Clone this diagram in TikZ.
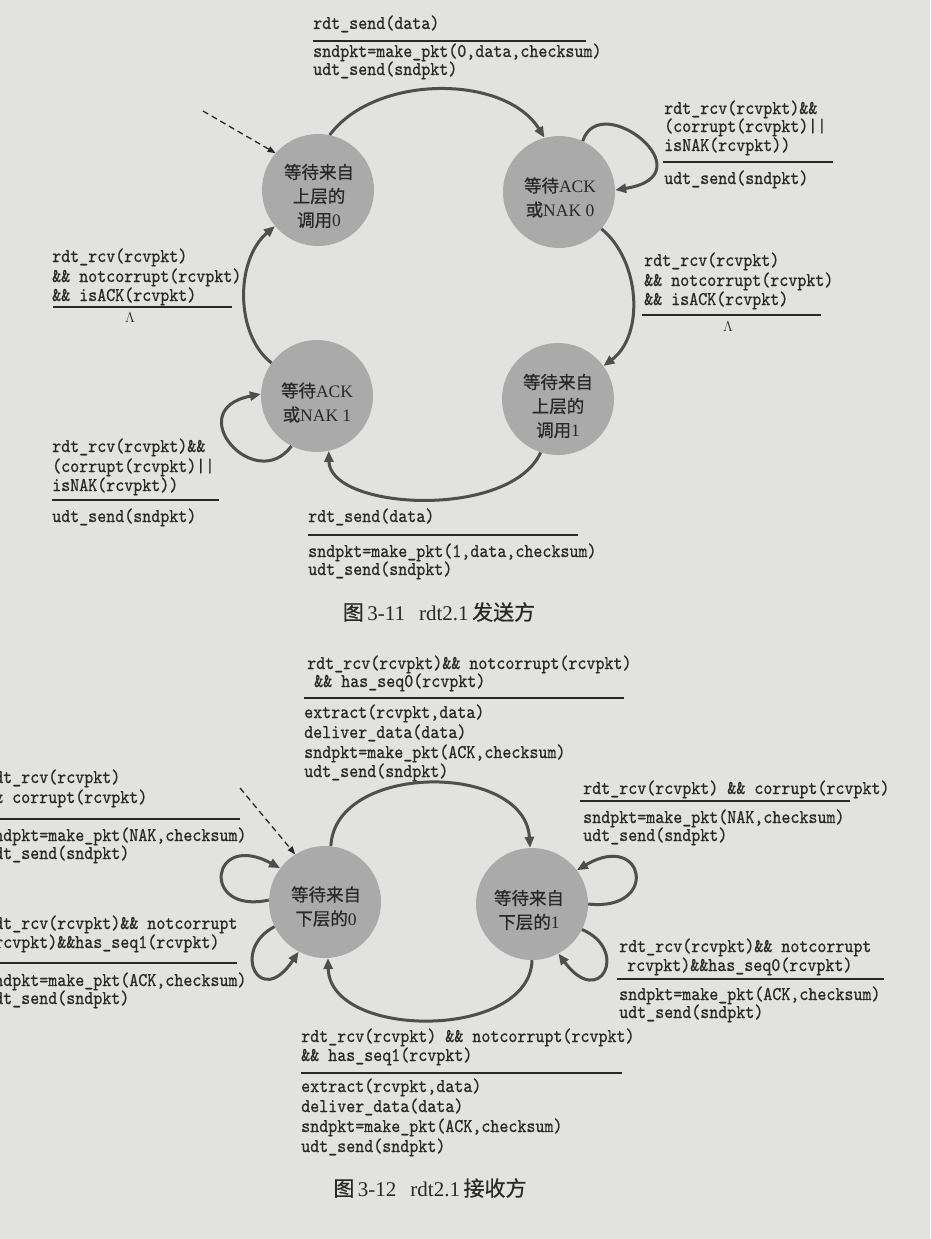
\documentclass[tikz,border=0pt]{standalone}
\usepackage{fontspec}
\usetikzlibrary{arrows.meta}
\newfontfamily\zhfont{Noto Sans CJK SC}[FakeBold=0.6]
\newfontfamily\lsfont{Liberation Serif}
\newfontfamily\codefont{lmmono10-regular}[Extension=.otf, FakeBold=0.7, FakeStretch=0.88]

\definecolor{paper}{RGB}{226,226,224}
\definecolor{statefill}{RGB}{170,170,170}
\definecolor{wire}{RGB}{78,78,78}
\definecolor{ink}{RGB}{40,40,40}

\tikzset{
  state/.style={circle, fill=statefill, minimum size=112pt, inner sep=0pt},
  statetext/.style={align=center, text=ink, inner sep=0pt,
    font=\fontsize{17.5}{24}\selectfont},
  code/.style={anchor=base west, inner sep=0pt, text=ink,
    font=\codefont\fontsize{19.5}{21}\selectfont},
  rule/.style={draw=ink, line width=1.6pt},
  trans/.style={draw=wire, line width=3pt, -{Triangle[length=11pt,width=9pt]}},
  init/.style={draw=ink, line width=1.3pt, dash pattern=on 6pt off 4pt,
    -{Triangle[length=8pt,width=6pt]}},
  lambda/.style={text=ink, inner sep=0pt, font=\fontsize{15}{15}\selectfont},
  caption/.style={text=ink, inner sep=0pt, font=\fontsize{21}{24}\selectfont},
}

\begin{document}
\begin{tikzpicture}[x=1pt, y=-1pt]
\path[use as bounding box, fill=paper] (0,0) rectangle (930,1239);
\clip (0,0) rectangle (930,1239);

% ---------------- rdt2.1 sender ----------------
\node[state] (w0) at (318,190) {};
\node[statetext] (w0t) at (319,196) {{\zhfont 等待来自}\\{\zhfont 上层的}\\{\zhfont 调用}{\lsfont 0}};
\node[state] (a0) at (559,192) {};
\node[statetext] (a0t) at (560,197.5) {{\zhfont 等待}{\lsfont ACK}\\{\zhfont 或}{\lsfont NAK 0}};
\node[state] (a1) at (317,396) {};
\node[statetext] (a1t) at (317,402.5) {{\zhfont 等待}{\lsfont ACK}\\{\zhfont 或}{\lsfont NAK 1}};
\node[state] (w1) at (558,399) {};
\node[statetext] (w1t) at (558,406) {{\zhfont 等待来自}\\{\zhfont 上层的}\\{\zhfont 调用}{\lsfont 1}};

\coordinate (s0) at (203,111);
\draw[init] (s0) -- (w0.139);
\draw[trans] (w0.78) .. controls (375,74) and (505,74) .. (a0.105);
\draw[trans] (a0.65) .. controls (600,88) and (710,175) .. (a0.2);
\draw[trans] (a0.-41) .. controls (640,260) and (645,335) .. (w1.36);
\draw[trans] (w1.252) .. controls (510,520) and (330,510) .. (a1.282);
\draw[trans] (a1.243) .. controls (255,495) and (180,410) .. (a1.178);
\draw[trans] (a1.144) .. controls (235,335) and (235,260) .. (w0.220);

% w0 -> a0
\node[code] (l1a) at (313,29) {rdt\_send(data)};
\draw[rule] (313,41) -- (586,41);
\node[code] (l1b) at (313,57) {sndpkt=make\_pkt(0,data,checksum)};
\node[code] (l1c) at (313,75) {udt\_send(sndpkt)};

% a0 self loop
\node[code] (l2a) at (664,114) {rdt\_rcv(rcvpkt)\&\&};
\node[code] (l2b) at (664,132) {(corrupt(rcvpkt)||};
\node[code] (l2c) at (664,151) {isNAK(rcvpkt))};
\draw[rule] (663,162) -- (833,162);
\node[code] (l2d) at (664,184) {udt\_send(sndpkt)};

% a1 -> w0
\node[code] (l3a) at (52,262) {rdt\_rcv(rcvpkt)};
\node[code] (l3b) at (52,282) {\&\& notcorrupt(rcvpkt)};
\node[code] (l3c) at (52,301) {\&\& isACK(rcvpkt)};
\draw[rule] (53,307) -- (232,307);
\node[lambda] (l3d) at (130,318) {$\Lambda$};

% a0 -> w1
\node[code] (l4a) at (644,266) {rdt\_rcv(rcvpkt)};
\node[code] (l4b) at (644,286) {\&\& notcorrupt(rcvpkt)};
\node[code] (l4c) at (644,305) {\&\& isACK(rcvpkt)};
\draw[rule] (642,315) -- (821,315);
\node[lambda] (l4d) at (728,327) {$\Lambda$};

% a1 self loop
\node[code] (l5a) at (52,452) {rdt\_rcv(rcvpkt)\&\&};
\node[code] (l5b) at (52,472) {(corrupt(rcvpkt)||};
\node[code] (l5c) at (52,491) {isNAK(rcvpkt))};
\draw[rule] (52,500) -- (219,500);
\node[code] (l5d) at (52,522) {udt\_send(sndpkt)};

% w1 -> a1
\node[code] (l6a) at (308,522) {rdt\_send(data)};
\draw[rule] (308,535) -- (578,535);
\node[code] (l6b) at (308,557) {sndpkt=make\_pkt(1,data,checksum)};
\node[code] (l6c) at (308,575) {udt\_send(sndpkt)};

\node[caption] (cap1) at (439,612) {{\zhfont 图}\,{\lsfont 3-11}\hspace{14pt}{\lsfont rdt2.1}\,{\zhfont 发送方}};

% ---------------- rdt2.1 receiver ----------------
\node[state] (r0) at (325,902) {};
\node[statetext] (r0t) at (326,906.5) {{\zhfont 等待来自}\\{\zhfont 下层的}{\lsfont 0}};
\node[state] (r1) at (532,904) {};
\node[statetext] (r1t) at (529,910) {{\zhfont 等待来自}\\{\zhfont 下层的}{\lsfont 1}};

\coordinate (s1) at (240,788);
\draw[init] (s1) -- (r0.122);
\draw[trans] (r0.84) .. controls (335,762) and (525,762) .. (r1.92);
\draw[trans] (r1.-90) .. controls (530,1040) and (330,1040) .. (r0.-87);
\draw[trans] (r0.178) .. controls (200,915) and (210,830) .. (r0.143);
\draw[trans] (r0.206) .. controls (230,950) and (260,1010) .. (r0.242);
\draw[trans] (r1.0) .. controls (660,912) and (645,830) .. (r1.37);
\draw[trans] (r1.-27) .. controls (630,950) and (600,1010) .. (r1.-62);

% r0 -> r1
\node[code] (m1a) at (307,669) {rdt\_rcv(rcvpkt)\&\& notcorrupt(rcvpkt)};
\node[code] (m1b) at (314,687) {\&\& has\_seq0(rcvpkt)};
\draw[rule] (304,698) -- (624,698);
\node[code] (m1c) at (304,718) {extract(rcvpkt,data)};
\node[code] (m1d) at (304,738) {deliver\_data(data)};
\node[code] (m1e) at (304,758) {sndpkt=make\_pkt(ACK,checksum)};
\node[code] (m1f) at (304,777) {udt\_send(sndpkt)};

% r0 loop, corrupt
\node[code] (m2a) at (-15,783) {rdt\_rcv(rcvpkt)};
\node[code] (m2b) at (-15,803) {\&\& corrupt(rcvpkt)};
\draw[rule] (0,819) -- (240,819);
\node[code] (m2c) at (-15,841) {sndpkt=make\_pkt(NAK,checksum)};
\node[code] (m2d) at (-15,859) {udt\_send(sndpkt)};

% r1 loop, corrupt
\node[code] (m3a) at (583,794) {rdt\_rcv(rcvpkt) \&\& corrupt(rcvpkt)};
\draw[rule] (580,801) -- (850,801);
\node[code] (m3b) at (583,823) {sndpkt=make\_pkt(NAK,checksum)};
\node[code] (m3c) at (583,841) {udt\_send(sndpkt)};

% r0 loop, duplicate seq1
\node[code] (m4a) at (-15,929) {rdt\_rcv(rcvpkt)\&\& notcorrupt};
\node[code] (m4b) at (-15,948) {(rcvpkt)\&\&has\_seq1(rcvpkt)};
\draw[rule] (0,963) -- (237,963);
\node[code] (m4c) at (-15,986) {sndpkt=make\_pkt(ACK,checksum)};
\node[code] (m4d) at (-15,1004) {udt\_send(sndpkt)};

% r1 loop, duplicate seq0
\node[code] (m5a) at (619,952) {rdt\_rcv(rcvpkt)\&\& notcorrupt};
\node[code] (m5b) at (627,971) {rcvpkt)\&\&has\_seq0(rcvpkt)};
\draw[rule] (617,979) -- (884,979);
\node[code] (m5c) at (619,1000) {sndpkt=make\_pkt(ACK,checksum)};
\node[code] (m5d) at (619,1018) {udt\_send(sndpkt)};

% r1 -> r0
\node[code] (m6a) at (301,1042) {rdt\_rcv(rcvpkt) \&\& notcorrupt(rcvpkt)};
\node[code] (m6b) at (301,1061) {\&\& has\_seq1(rcvpkt)};
\draw[rule] (301,1073) -- (622,1073);
\node[code] (m6c) at (301,1092) {extract(rcvpkt,data)};
\node[code] (m6d) at (301,1112) {deliver\_data(data)};
\node[code] (m6e) at (301,1132) {sndpkt=make\_pkt(ACK,checksum)};
\node[code] (m6f) at (301,1152) {udt\_send(sndpkt)};

\node[caption] (cap2) at (430,1188) {{\zhfont 图}\,{\lsfont 3-12}\hspace{14pt}{\lsfont rdt2.1}\,{\zhfont 接收方}};
\end{tikzpicture}
\end{document}
